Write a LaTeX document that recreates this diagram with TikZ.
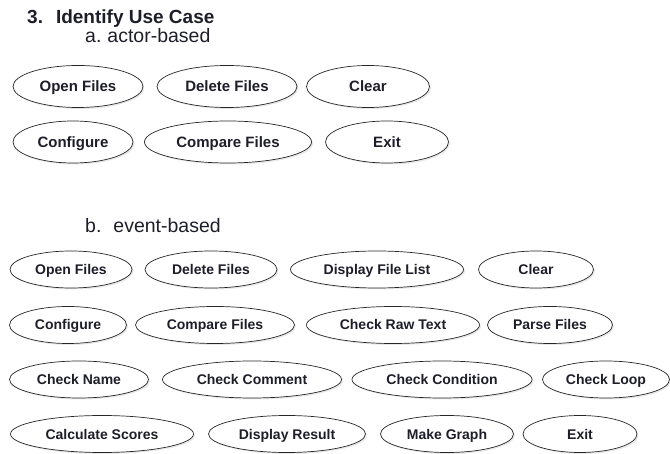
\documentclass[tikz,border=0pt]{standalone}
\usepackage{fontspec}
\setmainfont{Liberation Sans}
\usetikzlibrary{shapes.geometric, shadows}
\definecolor{ink}{RGB}{30,30,42}

\begin{document}
\begin{tikzpicture}[x=1pt, y=-1pt,
    usecase/.style={ellipse, draw=black!85, line width=0.7pt, fill=white,
      inner sep=0pt, text=ink, text depth=0pt,
      drop shadow={opacity=0.18, shadow xshift=1.5pt, shadow yshift=-1.5pt}},
    bigcase/.style={usecase, minimum height=42pt, text height=10.7pt,
      font=\fontsize{15}{17}\selectfont\bfseries},
    smallcase/.style={usecase, minimum height=37pt, text height=10pt,
      font=\fontsize{14}{16}\selectfont\bfseries},
    heading/.style={anchor=base west, inner sep=0pt, text=ink}]
  \useasboundingbox (0,0) rectangle (670,454);

  % Headings
  \node[heading, font=\fontsize{19}{22}\selectfont\bfseries] (title) at (27,24)
    {3.\hspace{13pt}Identify Use Case};
  \node[heading, font=\fontsize{19.5}{22}\selectfont] (actor) at (85,43)
    {a.\hspace{6pt}actor-based};
  \node[heading, font=\fontsize{19.5}{22}\selectfont] (event) at (85,233)
    {b.\hspace{12pt}event-based};

  % a. actor-based
  \node[bigcase, minimum width=130pt] (aopen) at (78,86.5) {Open Files};
  \node[bigcase, minimum width=140pt] (adelete) at (227,86.5) {Delete Files};
  \node[bigcase, minimum width=123pt] (aclear) at (368,86.5) {Clear};

  \node[bigcase, minimum width=120pt] (aconfig) at (73,142) {Configure};
  \node[bigcase, minimum width=167pt] (acompare) at (228,142) {Compare Files};
  \node[bigcase, minimum width=123pt] (aexit) at (387,142) {Exit};

  % b. event-based
  \node[smallcase, minimum width=122pt] (eopen) at (71,269.5) {Open Files};
  \node[smallcase, minimum width=132pt] (edelete) at (211,269.5) {Delete Files};
  \node[smallcase, minimum width=173pt] (elist) at (377,269.5) {Display File List};
  \node[smallcase, minimum width=115pt] (eclear) at (536,269.5) {Clear};

  \node[smallcase, minimum width=117pt] (econfig) at (68,325) {Configure};
  \node[smallcase, minimum width=159pt] (ecompare) at (215,325) {Compare Files};
  \node[smallcase, minimum width=173pt] (eraw) at (393,325) {Check Raw Text};
  \node[smallcase, minimum width=125pt] (eparse) at (550,325) {Parse Files};

  \node[smallcase, minimum width=139pt] (ename) at (79,379.5) {Check Name};
  \node[smallcase, minimum width=179pt] (ecomment) at (252,379.5) {Check Comment};
  \node[smallcase, minimum width=180pt] (econd) at (442,379.5) {Check Condition};
  \node[smallcase, minimum width=127pt] (eloop) at (606,379.5) {Check Loop};

  \node[smallcase, minimum width=183pt] (escores) at (102,434) {Calculate Scores};
  \node[smallcase, minimum width=157pt] (eresult) at (287,434) {Display Result};
  \node[smallcase, minimum width=133pt] (egraph) at (447,434) {Make Graph};
  \node[smallcase, minimum width=114pt] (eexit) at (580,434) {Exit};
\end{tikzpicture}
\end{document}
